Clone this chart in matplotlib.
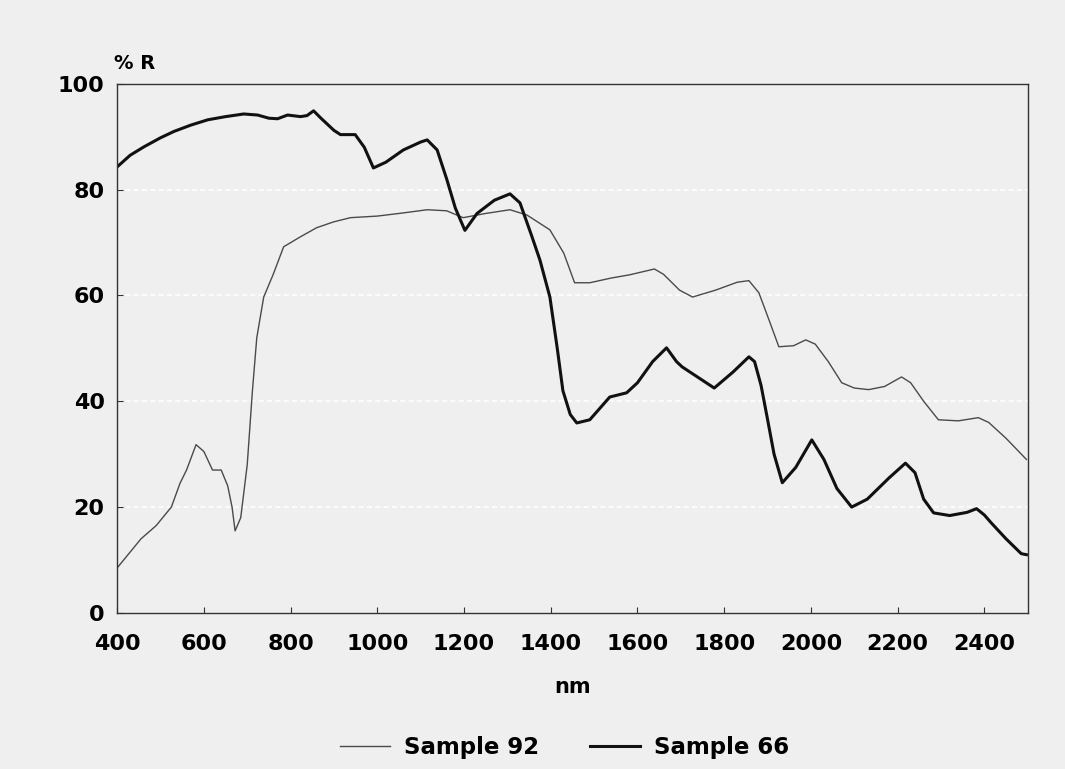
import matplotlib.pyplot as plt

# Wavelength (nm) and reflectance (%)
nm_92 = [400, 430, 455, 490, 525, 545, 560, 582, 600, 620, 640, 655, 665, 672, 685,
         700, 712, 722, 738, 760, 784, 823, 860, 899, 938, 1000, 1060, 1115, 1160,
         1198, 1250, 1306, 1345, 1398, 1430, 1455, 1490, 1540, 1582, 1639, 1660,
         1697, 1727, 1780, 1830, 1857, 1880, 1905, 1926, 1960, 1988, 2010, 2040,
         2071, 2100, 2133, 2170, 2209, 2230, 2260, 2294, 2340, 2386, 2410, 2450, 2497]
r_92 = [8.5, 11.5, 14.0, 16.5, 20.0, 24.5, 27.0, 31.8, 30.5, 27.0, 27.0, 24.0, 20.0,
        15.5, 18.0, 28.0, 42.0, 52.0, 59.7, 64.0, 69.2, 71.1, 72.8, 73.9, 74.7, 75.0,
        75.6, 76.2, 76.0, 74.7, 75.5, 76.2, 75.2, 72.4, 68.0, 62.4, 62.4, 63.3, 63.9,
        65.0, 64.0, 61.0, 59.7, 61.0, 62.5, 62.8, 60.5, 55.0, 50.3, 50.5, 51.6, 50.8,
        47.5, 43.5, 42.5, 42.2, 42.8, 44.6, 43.5, 40.0, 36.5, 36.3, 36.9, 36.0, 33.0, 29.0]

nm_66 = [400, 430, 462, 500, 531, 570, 609, 650, 692, 724, 750, 770, 793, 823, 838,
         853, 870, 900, 915, 949, 970, 991, 1020, 1060, 1100, 1115, 1138, 1160, 1180,
         1202, 1230, 1270, 1306, 1329, 1355, 1375, 1398, 1415, 1428, 1445, 1460, 1490,
         1536, 1575, 1600, 1635, 1667, 1690, 1703, 1740, 1777, 1820, 1857, 1870, 1885,
         1899, 1915, 1934, 1965, 2002, 2030, 2060, 2094, 2130, 2180, 2218, 2240, 2260,
         2283, 2320, 2360, 2382, 2400, 2416, 2450, 2485, 2497]
r_66 = [84.3, 86.5, 88.1, 89.8, 91.0, 92.2, 93.2, 93.8, 94.3, 94.1, 93.5, 93.4, 94.1,
        93.8, 94.0, 94.9, 93.5, 91.2, 90.4, 90.4, 88.0, 84.1, 85.2, 87.5, 89.0, 89.4,
        87.5, 82.0, 76.5, 72.3, 75.5, 78.0, 79.2, 77.5, 71.5, 66.7, 59.7, 50.0, 42.0,
        37.5, 35.9, 36.5, 40.8, 41.6, 43.5, 47.5, 50.1, 47.5, 46.5, 44.5, 42.5, 45.5,
        48.4, 47.5, 43.0, 37.0, 30.0, 24.6, 27.5, 32.7, 29.0, 23.5, 20.0, 21.5, 25.5,
        28.3, 26.5, 21.5, 18.9, 18.4, 19.0, 19.7, 18.5, 17.0, 14.0, 11.2, 11.0]

x_ticks = [400, 600, 800, 1000, 1200, 1400, 1600, 1800, 2000, 2200, 2400]
y_ticks = [0, 20, 40, 60, 80, 100]

bg = '#efefef'
font = 'DejaVu Sans'
fig = plt.figure(figsize=(10.65, 7.69), dpi=100, facecolor=bg)
ax = fig.add_axes([0.110, 0.203, 0.855, 0.688])
ax.set_facecolor(bg)

ax.plot(nm_92, r_92, color='#4a4a4a', linewidth=1.0, label='Sample 92')
ax.plot(nm_66, r_66, color='#111111', linewidth=2.2, label='Sample 66')

ax.set_xlim(400, 2500)
ax.set_ylim(0, 100)
ax.set_xticks(x_ticks)
ax.set_yticks(y_ticks)

for y in [20, 40, 60, 80]:
    ax.axhline(y, color='white', linestyle=(0, (3, 2)), linewidth=1.2, alpha=0.9, zorder=0)

for s in ax.spines.values():
    s.set_color('#333333')
    s.set_linewidth(1.0)

ax.tick_params(direction='in', length=4, width=0.8, color='#333333')
for lab in ax.get_xticklabels() + ax.get_yticklabels():
    lab.set_fontsize(16)
    lab.set_fontweight('bold')
    lab.set_family(font)
ax.tick_params(axis='x', pad=15)
ax.tick_params(axis='y', pad=9)

ax.set_xlabel('nm', fontsize=15, fontweight='bold', family=font, labelpad=17)
fig.text(0.107, 0.905, '% R', fontsize=14, fontweight='bold', family=font,
         ha='left', va='bottom')

fig.legend(loc='lower center', bbox_to_anchor=(0.53, -0.014), ncol=2, frameon=False,
           prop={'family': font, 'weight': 'bold', 'size': 16.5},
           handlelength=2.2, handletextpad=0.6, columnspacing=2.2)

fig.savefig('out.png', dpi=100, facecolor=bg)
